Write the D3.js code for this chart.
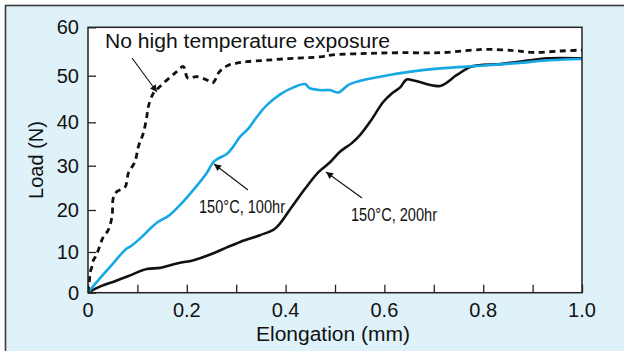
<!DOCTYPE html>
<html><head><meta charset="utf-8">
<script src="https://cdn.jsdelivr.net/npm/d3@7/dist/d3.min.js"></script>
<style>
body{margin:0;background:#fff;}
text{font-family:"Liberation Sans",Arial,Helvetica,sans-serif;fill:#111;}
</style></head>
<body><svg id="chart" width="624" height="351"></svg>
<script>
// ---- data ----
const xTickValues = [0,0.1,0.2,0.3,0.4,0.5,0.6,0.7,0.8,0.9,1.0];
const xTickLabels = ["0","","0.2","","0.4","","0.6","","0.8","","1.0"];
const yTickValues = [0,10,20,30,40,50,60];
const yTickLabels = ["0","10","20","30","40","50","60"];

const noExpX = [0,0.003,0.004,0.008,0.011,0.015,0.021,0.031,0.041,0.049,0.051,0.058,0.075,0.082,0.095,0.102,0.112,0.119,0.122,0.132,0.142,0.159,0.179,0.193,0.202,0.22,0.24,0.253,0.265,0.283,0.301,0.321,0.362,0.416,0.47,0.496,0.564,0.632,0.713,0.779,0.807,0.861,0.901,0.955,1.0];
const noExpY = [0,3.1,4.8,6.4,8.0,8.8,10.5,13.6,15.2,18.8,22.6,24.1,25.2,28.4,30.9,34.4,37.5,41.2,43.3,46.2,47.3,49.0,50.8,51.9,49.5,49.8,49.1,48.5,50.7,52.1,52.6,52.9,53.2,53.6,53.9,54.3,54.6,54.75,54.75,55.3,55.45,55.2,54.8,55.1,55.3];

const h100X = [0,0.024,0.051,0.075,0.088,0.109,0.126,0.142,0.163,0.186,0.213,0.24,0.254,0.264,0.281,0.294,0.308,0.325,0.342,0.362,0.389,0.416,0.439,0.449,0.47,0.49,0.507,0.53,0.597,0.665,0.733,0.8,0.868,0.935,1.0];
const h100Y = [0,3.5,7.2,10.5,11.5,13.6,15.6,17.2,18.6,21.1,24.5,28.3,30.9,31.7,32.7,34.4,36.7,38.6,41.2,43.7,46.0,47.5,48.2,47.3,46.9,46.9,46.4,48.2,49.9,51.0,51.65,52.1,52.6,53.2,53.45];

const h200X = [0,0.024,0.052,0.082,0.119,0.146,0.18,0.214,0.254,0.281,0.308,0.348,0.379,0.41,0.44,0.467,0.49,0.51,0.534,0.551,0.571,0.598,0.615,0.632,0.645,0.662,0.713,0.746,0.777,0.834,0.895,0.929,1.0];
const h200Y = [0,1.5,2.7,4.1,5.8,6.1,7.2,8.0,9.7,11.1,12.4,14.0,15.6,20.3,24.9,28.6,30.8,33.2,35.2,37.1,40.1,44.4,46.2,47.5,49.2,48.9,47.8,50.1,51.9,52.4,53.2,53.6,53.6];

const xTitle = "Elongation (mm)";
const yTitle = "Load (N)";
const labelNoExp = "No high temperature exposure";
const label100 = "150°C, 100hr";
const label200 = "150°C, 200hr";

// ---- drawing ----
const svg = d3.select("#chart");
const L = 88, R = 582, T = 27.3, B = 292.7;

const x = d3.scaleLinear().domain([0,1]).range([L,R]);
// the printed axis is slightly non-uniform; follow the printed tick positions
const y = d3.scaleLinear().domain(yTickValues).range([292.7,252,210,165.7,122.3,75.7,27.3]);

svg.append("rect").attr("x",5.5).attr("y",5.5).attr("width",660).attr("height",400)
  .attr("fill","#dff1f9").attr("stroke","#3a3a3a").attr("stroke-width",1.6);

svg.append("rect").attr("x",L).attr("y",T).attr("width",R-L).attr("height",B-T)
  .attr("fill","#fff");

// axes with inward ticks
const xAxis = d3.axisTop(x).tickValues(xTickValues).tickSize(8).tickFormat("");
svg.append("g").attr("transform",`translate(0,${B})`).call(xAxis)
  .call(g=>g.select(".domain").remove())
  .call(g=>g.selectAll("line").attr("stroke","#222").attr("stroke-width",1.3));
const yAxis = d3.axisRight(y).tickValues(yTickValues).tickSize(8).tickFormat("");
svg.append("g").attr("transform",`translate(${L},0)`).call(yAxis)
  .call(g=>g.select(".domain").remove())
  .call(g=>g.selectAll("line").attr("stroke","#222").attr("stroke-width",1.3));

svg.selectAll(".xl").data(xTickValues).join("text").attr("class","xl")
  .attr("x",d=>x(d)).attr("y",B+24).attr("text-anchor","middle")
  .style("font-size","20px").text((d,i)=>xTickLabels[i]);
svg.selectAll(".yl").data(yTickValues).join("text").attr("class","yl")
  .attr("x",L-9).attr("y",d=>y(d)+7).attr("text-anchor","end")
  .style("font-size","20px").text((d,i)=>yTickLabels[i]);

svg.append("text").attr("x",256).attr("y",341)
  .attr("textLength",154).attr("lengthAdjust","spacingAndGlyphs")
  .style("font-size","20px").text(xTitle);
svg.append("text").attr("transform",`translate(43,${(T+B)/2}) rotate(-90)`).attr("text-anchor","middle")
  .style("font-size","20px").text(yTitle);

// curves
const line = d3.line().x(d=>x(d[0])).y(d=>y(d[1])).curve(d3.curveCatmullRom.alpha(0.5));
const zip = (a,b)=>a.map((v,i)=>[v,b[i]]);

svg.append("clipPath").attr("id","pc").append("rect")
  .attr("x",L).attr("y",T-5).attr("width",R-L).attr("height",B-T+5);

const curves = svg.append("g").attr("clip-path","url(#pc)");
curves.append("path").attr("d",line(zip(h200X,h200Y))).attr("fill","none")
  .attr("stroke","#111").attr("stroke-width",2.6).attr("stroke-linejoin","round");
curves.append("path").attr("d",line(zip(h100X,h100Y))).attr("fill","none")
  .attr("stroke","#16a8e4").attr("stroke-width",2.6).attr("stroke-linejoin","round");
curves.append("path").attr("d",line(zip(noExpX,noExpY))).attr("fill","none")
  .attr("stroke","#111").attr("stroke-width",2.8).attr("stroke-dasharray","6,4.5");

// plot frame
svg.append("rect").attr("x",L).attr("y",T).attr("width",R-L).attr("height",B-T)
  .attr("fill","none").attr("stroke","#222").attr("stroke-width",1.5);

// arrows
const defs = svg.append("defs");
defs.append("marker").attr("id","ah").attr("viewBox","0 0 10 10").attr("refX",10).attr("refY",5)
  .attr("markerWidth",10).attr("markerHeight",7).attr("markerUnits","userSpaceOnUse")
  .attr("orient","auto").append("path").attr("d","M0,0L10,5L0,10Z").attr("fill","#111");

function arrow(x1,y1,x2,y2){
  svg.append("line").attr("x1",x1).attr("y1",y1).attr("x2",x2).attr("y2",y2)
    .attr("stroke","#111").attr("stroke-width",1.1).attr("marker-end","url(#ah)");
}
arrow(132,58,157,92);
arrow(248,190,214,164);
arrow(362,198,326,172);

svg.append("text").attr("x",105).attr("y",48).style("font-size","20px")
  .attr("textLength",285).attr("lengthAdjust","spacingAndGlyphs").text(labelNoExp);
svg.append("text").attr("x",199).attr("y",213).style("font-size","18px")
  .attr("textLength",86).attr("lengthAdjust","spacingAndGlyphs").text(label100);
svg.append("text").attr("x",351).attr("y",221).style("font-size","18px")
  .attr("textLength",86).attr("lengthAdjust","spacingAndGlyphs").text(label200);
</script>
</body></html>
